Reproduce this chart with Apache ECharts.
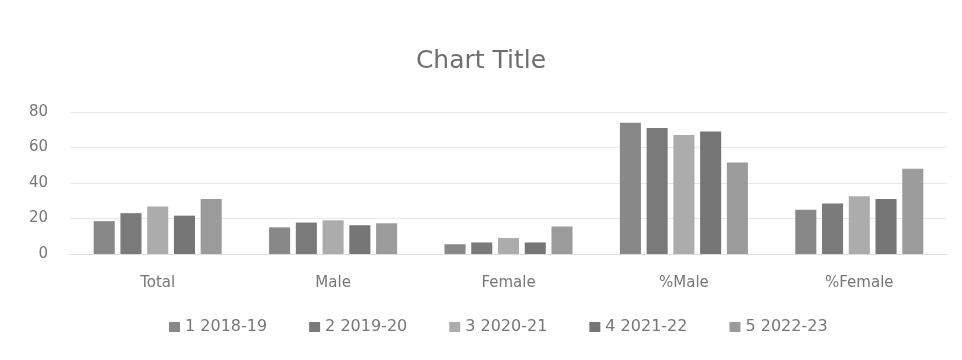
<!DOCTYPE html>
<html>
<head>
<meta charset="utf-8">
<script src="https://cdn.jsdelivr.net/npm/echarts@6/dist/echarts.min.js"></script>
<style>
html, body { margin: 0; padding: 0; background: #fff; }
#box1 { width: 962px; height: 360px; }
</style>
</head>
<body>
<div id="box1"></div>
<script>
var myChart = echarts.init(document.getElementById('box1'));

let categories = ['Total', 'Male', 'Female', '%Male', '%Female'];
let seriesNames = ['1 2018-19', '2 2019-20', '3 2020-21', '4 2021-22', '5 2022-23'];
let y2018 = [18.5, 15, 5.5, 74, 25];
let y2019 = [23, 17.7, 6.5, 71, 28.5];
let y2020 = [26.8, 19, 9, 67, 32.5];
let y2021 = [21.6, 16.2, 6.5, 69, 31];
let y2022 = [31, 17.3, 15.5, 51.5, 48];
let colors = ['#888888', '#7a7a7a', '#acacac', '#767676', '#9b9b9b'];

let allValues = [y2018, y2019, y2020, y2021, y2022];
let series = seriesNames.map(function (name, i) {
    return {
        name: name,
        type: 'bar',
        data: allValues[i],
        itemStyle: { color: colors[i] },
        barGap: '27%',
        barCategoryGap: '27%'
    };
});

let font = 'DejaVu Sans';

option = {
    animation: false,
    backgroundColor: '#fff',
    title: {
        text: 'Chart Title',
        left: 'center',
        top: 44,
        textStyle: {
            fontFamily: font,
            fontWeight: 'normal',
            fontSize: 25,
            color: '#6e6e6e'
        }
    },
    legend: {
        bottom: 20,
        left: 164,
        itemWidth: 11,
        itemHeight: 10,
        itemGap: 42,
        icon: 'rect',
        textStyle: { fontFamily: font, fontSize: 16, color: '#777777' },
        data: seriesNames
    },
    grid: {
        left: 70,
        right: 15,
        top: 112,
        bottom: 106
    },
    xAxis: {
        type: 'category',
        data: categories,
        axisTick: { show: false },
        axisLine: { lineStyle: { color: '#dddddd' } },
        axisLabel: { fontFamily: font, fontSize: 15, color: '#777777', margin: 22 }
    },
    yAxis: {
        type: 'value',
        min: 0,
        max: 80,
        interval: 20,
        axisLine: { show: false },
        axisTick: { show: false },
        splitLine: { lineStyle: { color: '#e8e8e8' } },
        axisLabel: { fontFamily: font, fontSize: 15, color: '#777777', margin: 22 }
    },
    series: series
};
myChart.setOption(option);
</script>
</body>
</html>
